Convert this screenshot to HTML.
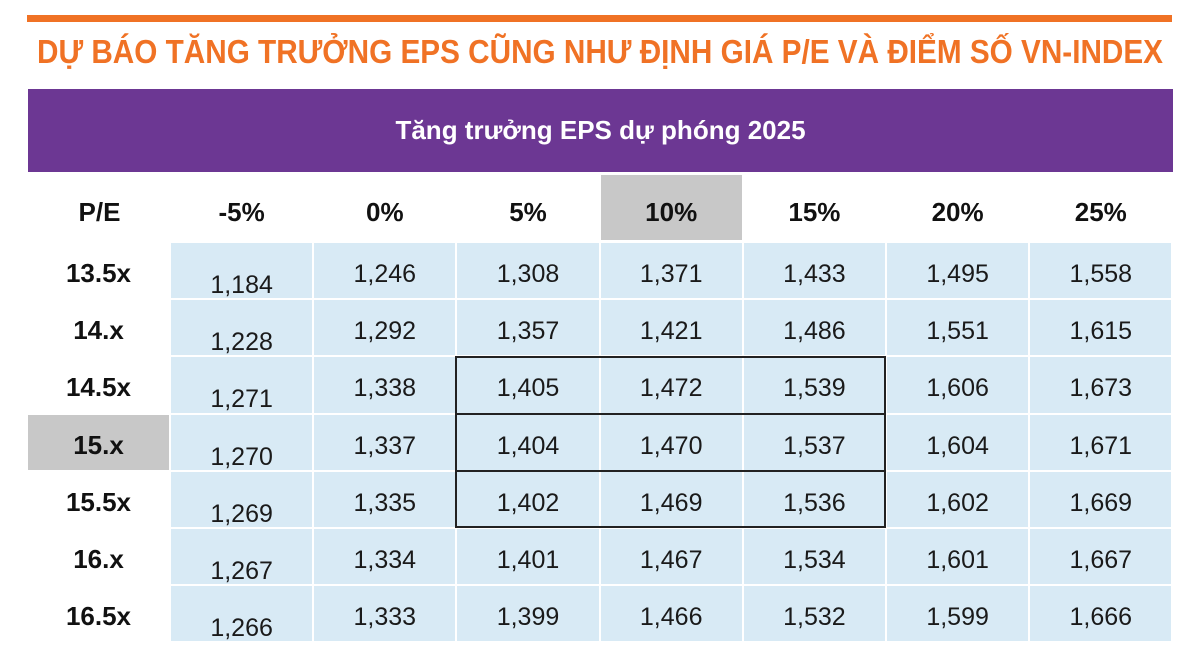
<!DOCTYPE html>
<html><head><meta charset="utf-8"><style>
body{margin:0;width:1200px;height:665px;background:#fff;overflow:hidden;font-family:"Liberation Sans",sans-serif;}
#root{position:relative;width:1200px;height:665px;}
.abs{position:absolute;}
.cell{position:absolute;background:#d8eaf5;box-sizing:border-box;display:flex;justify-content:center;font-size:25px;color:#1a1a1a;}
.hdr{position:absolute;display:flex;align-items:center;justify-content:center;font-size:26px;font-weight:bold;color:#111;box-sizing:border-box;}
</style></head><body>
<div id="root">
<div class="abs" style="left:27px;top:15px;width:1145px;height:7px;background:#f07225;"></div>
<svg class="abs" style="left:0;top:28px" width="1200" height="45">
<text x="37" y="35" textLength="1126" lengthAdjust="spacingAndGlyphs" font-family="Liberation Sans, sans-serif" font-weight="bold" font-size="33" fill="#f07225">DỰ BÁO TĂNG TRƯỞNG EPS CŨNG NHƯ ĐỊNH GIÁ P/E VÀ ĐIỂM SỐ VN-INDEX</text>
</svg>
<div class="abs" style="left:28px;top:89px;width:1145px;height:83px;background:#6c3793;color:#fff;font-weight:bold;font-size:26px;display:flex;align-items:center;justify-content:center;">Tăng trưởng EPS dự phóng 2025</div>
</div>
<script>
const growth=["-5%","0%","5%","10%","15%","20%","25%"];
const peLabels=["13.5x","14.x","14.5x","15.x","15.5x","16.x","16.5x"];
const values=[
[1184,1246,1308,1371,1433,1495,1558],
[1228,1292,1357,1421,1486,1551,1615],
[1271,1338,1405,1472,1539,1606,1673],
[1270,1337,1404,1470,1537,1604,1671],
[1269,1335,1402,1469,1536,1602,1669],
[1267,1334,1401,1467,1534,1601,1667],
[1266,1333,1399,1466,1532,1599,1666]];
const highlightCol=3, highlightRow=3;
const boxCols=[2,4], boxRows=[2,4];
const root=document.getElementById('root');
const x0=171, cw=143.2, y0=243, rh=57.2, hy=175;
const colX=i=>x0+i*cw, rowY=j=>y0+j*rh;
function fmt(v){return v.toLocaleString('en-US');}
const pe=document.createElement('div');pe.className='hdr';


pe.style.cssText='left:28px;top:'+hy+'px;width:143px;height:65px;padding-top:10px;';pe.textContent='P/E';root.appendChild(pe);
growth.forEach((g,i)=>{const d=document.createElement('div');d.className='hdr';


d.style.left=colX(i)+'px';d.style.top=hy+'px';d.style.width=(cw-2)+'px';d.style.height='65px';d.style.paddingTop='10px';
if(i===highlightCol)d.style.background='#c8c8c8';d.textContent=g;root.appendChild(d);});
peLabels.forEach((p,j)=>{const d=document.createElement('div');d.className='hdr';


d.style.left='28px';d.style.top=rowY(j)+'px';d.style.width='141px';d.style.height=(rh-2)+'px';d.style.paddingTop='6px';
if(j===highlightRow)d.style.background='#c8c8c8';d.textContent=p;root.appendChild(d);
values[j].forEach((v,i)=>{const c=document.createElement('div');c.className='cell';


c.style.left=colX(i)+'px';c.style.top=rowY(j)+'px';c.style.width=(cw-2)+'px';c.style.height=(rh-2)+'px';
c.style.alignItems='flex-start';c.style.paddingTop=(i===0?28:17)+'px';
c.textContent=fmt(v);root.appendChild(c);});});
const bx=document.createElement('div');bx.className='abs';


bx.style.cssText='box-sizing:border-box;border:2px solid #222;left:'+(colX(boxCols[0])-2)+'px;top:'+(rowY(boxRows[0])-1)+'px;width:'+(colX(boxCols[1]+1)-colX(boxCols[0])+1)+'px;height:'+(rowY(boxRows[1]+1)-rowY(boxRows[0]))+'px;';
root.appendChild(bx);
for(let r=boxRows[0]+1;r<=boxRows[1];r++){const l=document.createElement('div');l.className='abs';


l.style.cssText='background:#222;height:2px;left:'+(colX(boxCols[0])-2)+'px;top:'+(rowY(r)-2)+'px;width:'+(colX(boxCols[1]+1)-colX(boxCols[0])+1)+'px;';root.appendChild(l);}
</script>
</body></html>
